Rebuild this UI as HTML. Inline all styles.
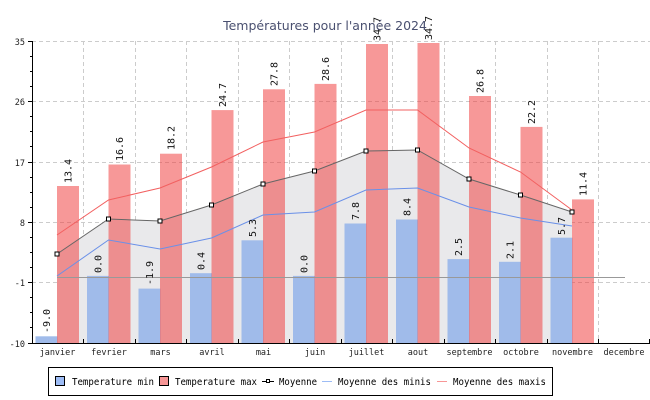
<!DOCTYPE html>
<html><head><meta charset="utf-8"><style>
html,body{margin:0;padding:0;background:#fff;}
svg{display:block;}
text{font-family:"DejaVu Sans Mono","Liberation Mono",monospace;}
</style></head><body>
<svg width="650" height="400" viewBox="0 0 650 400" xmlns="http://www.w3.org/2000/svg">
<g stroke="#cccccc" stroke-dasharray="4,3" stroke-width="1">
<line x1="32" y1="41.5" x2="650" y2="41.5"/>
<line x1="32" y1="101.5" x2="650" y2="101.5"/>
<line x1="32" y1="162.5" x2="650" y2="162.5"/>
<line x1="32" y1="222.5" x2="650" y2="222.5"/>
<line x1="32" y1="282.5" x2="650" y2="282.5"/>
<line x1="83.5" y1="41" x2="83.5" y2="343"/>
<line x1="135.5" y1="41" x2="135.5" y2="343"/>
<line x1="186.5" y1="41" x2="186.5" y2="343"/>
<line x1="238.5" y1="41" x2="238.5" y2="343"/>
<line x1="289.5" y1="41" x2="289.5" y2="343"/>
<line x1="341.5" y1="41" x2="341.5" y2="343"/>
<line x1="392.5" y1="41" x2="392.5" y2="343"/>
<line x1="444.5" y1="41" x2="444.5" y2="343"/>
<line x1="495.5" y1="41" x2="495.5" y2="343"/>
<line x1="547.5" y1="41" x2="547.5" y2="343"/>
<line x1="598.5" y1="41" x2="598.5" y2="343"/>
</g>
<polygon fill="#e9e9eb" points="57,254 108.5,219 160,221 211.5,205 263,184 314.5,171 366,151 417.5,150 469,179 520.5,195 572,212 572,343 57,343"/>
<g fill="#a0bbea">
<rect x="35.5" y="336.3" width="22" height="6.7"/>
<rect x="87" y="275.9" width="22" height="67.1"/>
<rect x="138.5" y="288.6" width="22" height="54.4"/>
<rect x="190" y="273.2" width="22" height="69.8"/>
<rect x="241.5" y="240.3" width="22" height="102.7"/>
<rect x="293" y="275.9" width="22" height="67.1"/>
<rect x="344.5" y="223.5" width="22" height="119.5"/>
<rect x="396" y="219.5" width="22" height="123.5"/>
<rect x="447.5" y="259.1" width="22" height="83.9"/>
<rect x="499" y="261.8" width="22" height="81.2"/>
<rect x="550.5" y="237.7" width="22" height="105.3"/>
</g>
<g fill="#f03c3c" fill-opacity="0.53">
<rect x="57" y="186" width="22" height="157"/>
<rect x="108.5" y="164.5" width="22" height="178.5"/>
<rect x="160" y="153.7" width="22" height="189.3"/>
<rect x="211.5" y="110.1" width="22" height="232.9"/>
<rect x="263" y="89.3" width="22" height="253.7"/>
<rect x="314.5" y="83.9" width="22" height="259.1"/>
<rect x="366" y="44" width="22" height="299"/>
<rect x="417.5" y="43" width="22" height="300"/>
<rect x="469" y="96" width="22" height="247"/>
<rect x="520.5" y="126.9" width="22" height="216.1"/>
<rect x="572" y="199.4" width="22" height="143.6"/>
</g>
<line x1="57" y1="277.5" x2="625" y2="277.5" stroke="#999" stroke-width="1"/>
<polyline fill="none" stroke="#f26060" stroke-width="1" points="57,235 108.5,200 160,188 211.5,167 263,142 314.5,132 366,110 417.5,110 469,148 520.5,172 572,210"/>
<polyline fill="none" stroke="#6a90e8" stroke-width="1" points="57,276 108.5,240 160,249 211.5,238 263,215 314.5,212 366,190 417.5,188 469,207 520.5,218 572,226"/>
<polyline fill="none" stroke="#666" stroke-width="1" points="57,254 108.5,219 160,221 211.5,205 263,184 314.5,171 366,151 417.5,150 469,179 520.5,195 572,212"/>
<g fill="#fff" stroke="#000" stroke-width="1">
<rect x="55" y="252" width="4" height="4"/><rect x="106.5" y="217" width="4" height="4"/><rect x="158" y="219" width="4" height="4"/><rect x="209.5" y="203" width="4" height="4"/><rect x="261" y="182" width="4" height="4"/><rect x="312.5" y="169" width="4" height="4"/><rect x="364" y="149" width="4" height="4"/><rect x="415.5" y="148" width="4" height="4"/><rect x="467" y="177" width="4" height="4"/><rect x="518.5" y="193" width="4" height="4"/><rect x="570" y="210" width="4" height="4"/>
</g>
<g font-size="10" fill="#111">
<text transform="translate(50,333) rotate(-90)">-9.0</text>
<text transform="translate(101.5,273) rotate(-90)">0.0</text>
<text transform="translate(153,285) rotate(-90)">-1.9</text>
<text transform="translate(204.5,270) rotate(-90)">0.4</text>
<text transform="translate(256,237) rotate(-90)">5.3</text>
<text transform="translate(307.5,273) rotate(-90)">0.0</text>
<text transform="translate(359,220) rotate(-90)">7.8</text>
<text transform="translate(410.5,216) rotate(-90)">8.4</text>
<text transform="translate(462,256) rotate(-90)">2.5</text>
<text transform="translate(513.5,259) rotate(-90)">2.1</text>
<text transform="translate(565,235) rotate(-90)">5.7</text>
<text transform="translate(71.5,183) rotate(-90)">13.4</text>
<text transform="translate(123,161) rotate(-90)">16.6</text>
<text transform="translate(174.5,150) rotate(-90)">18.2</text>
<text transform="translate(226,107) rotate(-90)">24.7</text>
<text transform="translate(277.5,86) rotate(-90)">27.8</text>
<text transform="translate(329,81) rotate(-90)">28.6</text>
<text transform="translate(380.5,41) rotate(-90)">34.7</text>
<text transform="translate(432,40) rotate(-90)">34.7</text>
<text transform="translate(483.5,93) rotate(-90)">26.8</text>
<text transform="translate(535,124) rotate(-90)">22.2</text>
<text transform="translate(586.5,196) rotate(-90)">11.4</text>
</g>
<text x="325" y="30" text-anchor="middle" font-size="12.5" fill="#4a5070" style="font-family:'DejaVu Sans','Liberation Sans',sans-serif">Températures pour l'année 2024</text>
<g stroke="#000" stroke-width="1">
<line x1="32.5" y1="41" x2="32.5" y2="343"/>
<line x1="32" y1="343.5" x2="650" y2="343.5"/>
<line x1="28" y1="41.5" x2="32" y2="41.5"/><line x1="28" y1="101.5" x2="32" y2="101.5"/><line x1="28" y1="162.5" x2="32" y2="162.5"/><line x1="28" y1="222.5" x2="32" y2="222.5"/><line x1="28" y1="282.5" x2="32" y2="282.5"/><line x1="28" y1="343.5" x2="32" y2="343.5"/>
<line x1="30" y1="56.5" x2="32" y2="56.5"/><line x1="30" y1="71.5" x2="32" y2="71.5"/><line x1="30" y1="86.5" x2="32" y2="86.5"/>
<line x1="30" y1="116.5" x2="32" y2="116.5"/><line x1="30" y1="131.5" x2="32" y2="131.5"/><line x1="30" y1="146.5" x2="32" y2="146.5"/>
<line x1="30" y1="177.5" x2="32" y2="177.5"/><line x1="30" y1="192.5" x2="32" y2="192.5"/><line x1="30" y1="207.5" x2="32" y2="207.5"/>
<line x1="30" y1="237.5" x2="32" y2="237.5"/><line x1="30" y1="252.5" x2="32" y2="252.5"/><line x1="30" y1="267.5" x2="32" y2="267.5"/>
<line x1="30" y1="297.5" x2="32" y2="297.5"/><line x1="30" y1="312.5" x2="32" y2="312.5"/><line x1="30" y1="327.5" x2="32" y2="327.5"/>
<line x1="83.5" y1="339" x2="83.5" y2="343"/><line x1="135.5" y1="339" x2="135.5" y2="343"/><line x1="186.5" y1="339" x2="186.5" y2="343"/><line x1="238.5" y1="339" x2="238.5" y2="343"/><line x1="289.5" y1="339" x2="289.5" y2="343"/><line x1="341.5" y1="339" x2="341.5" y2="343"/><line x1="392.5" y1="339" x2="392.5" y2="343"/><line x1="444.5" y1="339" x2="444.5" y2="343"/><line x1="495.5" y1="339" x2="495.5" y2="343"/><line x1="547.5" y1="339" x2="547.5" y2="343"/><line x1="598.5" y1="339" x2="598.5" y2="343"/><line x1="649.5" y1="339" x2="649.5" y2="343"/>
</g>
<g font-size="8.5" fill="#222" text-anchor="end" style="font-family:'DejaVu Sans','Liberation Sans',sans-serif">
<text x="25" y="45">35</text><text x="25" y="105">26</text><text x="25" y="166">17</text><text x="25" y="226">8</text><text x="25" y="286">-1</text><text x="25" y="347">-10</text>
</g>
<g font-size="8.5" fill="#222" text-anchor="middle" style="font-family:'DejaVu Sans','Liberation Sans',sans-serif">
<text x="57.5" y="355">janvier</text><text x="109" y="355">fevrier</text><text x="160.5" y="355">mars</text><text x="212" y="355">avril</text><text x="263.5" y="355">mai</text><text x="315" y="355">juin</text><text x="366.5" y="355">juillet</text><text x="418" y="355">aout</text><text x="469.5" y="355">septembre</text><text x="521" y="355">octobre</text><text x="572.5" y="355">novembre</text><text x="624" y="355">decembre</text>
</g>
<rect x="48.5" y="367.5" width="504" height="28" fill="#fff" stroke="#000"/>
<rect x="55.5" y="376.5" width="9" height="9" fill="#9dbcf5" stroke="#000"/>
<rect x="159.5" y="376.5" width="9" height="9" fill="#f79696" stroke="#000"/>
<line x1="262" y1="381.5" x2="274" y2="381.5" stroke="#000"/>
<rect x="266.5" y="379.5" width="3" height="3" fill="#fff" stroke="#000"/>
<line x1="322" y1="381.5" x2="332" y2="381.5" stroke="#9dbcf5"/>
<line x1="437" y1="381.5" x2="447" y2="381.5" stroke="#f79696"/>
<g font-size="9.5" fill="#000">
<text x="72" y="385" textLength="82" lengthAdjust="spacingAndGlyphs">Temperature min</text>
<text x="175" y="385" textLength="82" lengthAdjust="spacingAndGlyphs">Temperature max</text>
<text x="279" y="385" textLength="38" lengthAdjust="spacingAndGlyphs">Moyenne</text>
<text x="338" y="385" textLength="93" lengthAdjust="spacingAndGlyphs">Moyenne des minis</text>
<text x="453" y="385" textLength="93" lengthAdjust="spacingAndGlyphs">Moyenne des maxis</text>
</g>
</svg>
</body></html>
